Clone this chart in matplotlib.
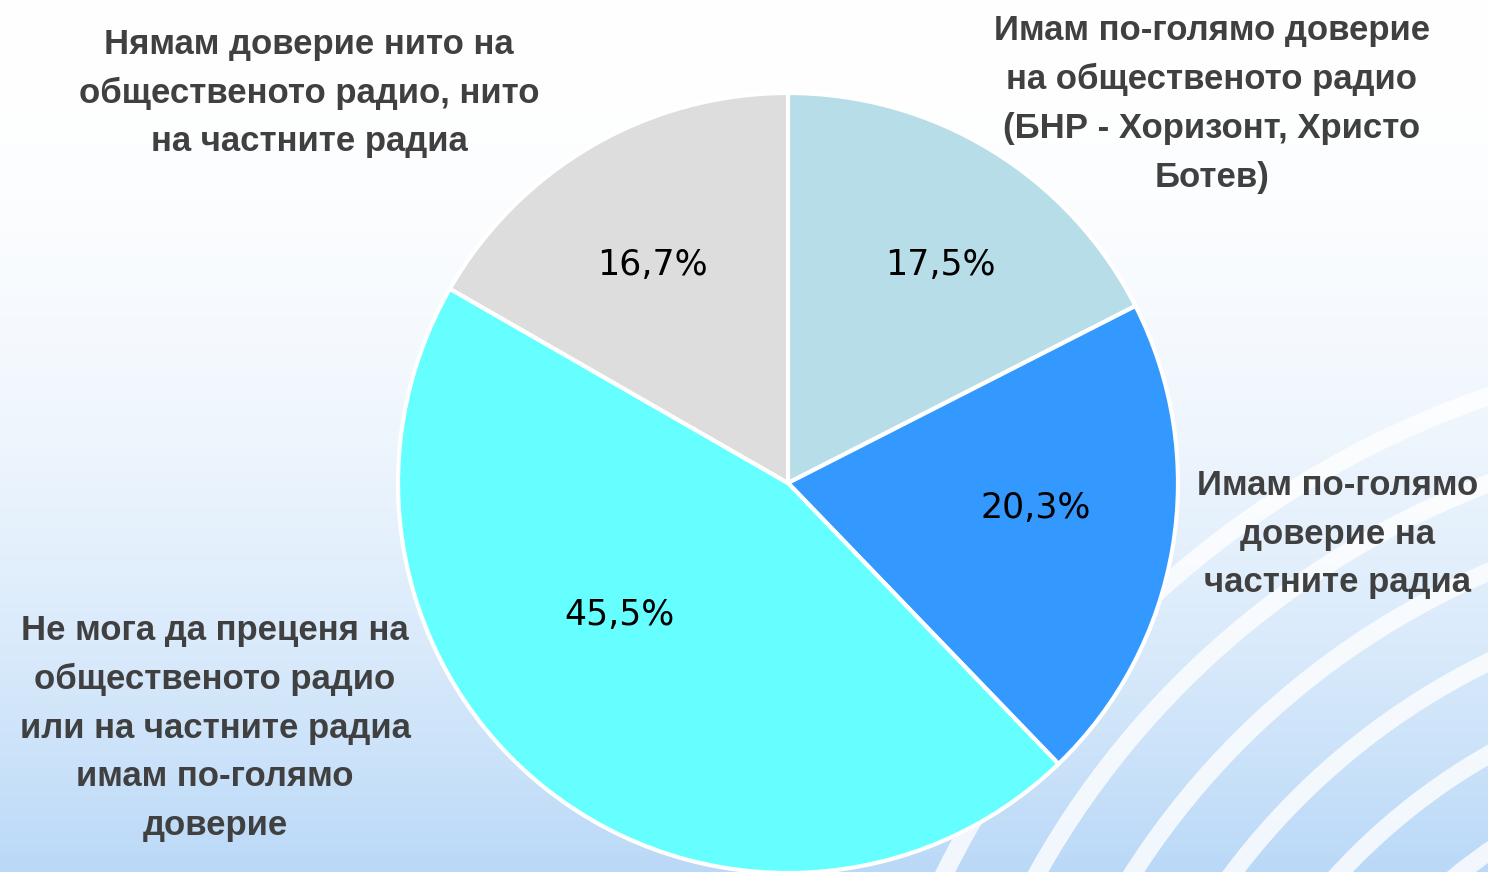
import numpy as np
import matplotlib.pyplot as plt
from matplotlib.patches import Circle
from matplotlib import font_manager

categories = [
    "Имам по-голямо доверие\nна общественото радио\n(БНР - Хоризонт, Христо\nБотев)",
    "Имам по-голямо\nдоверие на\nчастните радиа",
    "Не мога да преценя на\nобщественото радио\nили на частните радиа\nимам по-голямо\nдоверие",
    "Нямам доверие нито на\nобщественото радио, нито\nна частните радиа",
]
values = [17.5, 20.3, 45.5, 16.7]
pct_labels = ["17,5%", "20,3%", "45,5%", "16,7%"]
colors = ["#B7DDE8", "#3399FF", "#66FFFF", "#DDDDDD"]

W, H = 1488, 872
cx, cy, R = 788, 483, 390

names = {f.name for f in font_manager.fontManager.ttflist}
label_font = "Liberation Sans Narrow" if "Liberation Sans Narrow" in names else "Liberation Sans"

fig = plt.figure(figsize=(W / 100, H / 100), dpi=100)
ax = fig.add_axes([0, 0, 1, 1])

# background: white top fading to light blue at bottom
grad = np.linspace(0, 1, 256) ** 2.0
c_top = np.array([1.0, 1.0, 1.0])
c_bot = np.array([0.73, 0.85, 0.97])
img = c_top[None, :] * (1 - grad[:, None]) + c_bot[None, :] * grad[:, None]
ax.imshow(img[:, None, :].repeat(2, axis=1), extent=[0, W, H, 0], aspect="auto", zorder=0)
for r in np.arange(300, 1000, 82):
    ax.add_patch(Circle((1800, 1300), r, fill=False, ec="white", lw=13, alpha=0.8, zorder=1))

# pie in pixel coordinates
wedges, _ = ax.pie(values, colors=colors, startangle=90, counterclock=False,
                   center=(cx, cy), radius=R,
                   wedgeprops=dict(edgecolor="white", linewidth=3), frame=True)
for w in wedges:
    w.set_zorder(2)
    # flip angles since y-axis is inverted
    t1, t2 = w.theta1, w.theta2
    w.set_theta1(-t2)
    w.set_theta2(-t1)
ax.set_xlim(0, W)
ax.set_ylim(H, 0)
ax.axis("off")

pct_pos = [(940, 265), (1036, 508), (619, 615), (652, 265)]
for (x, y), t in zip(pct_pos, pct_labels):
    ax.text(x, y, t, ha="center", va="center", fontsize=25, color="black",
            family="DejaVu Sans", zorder=3)

label_pos = [(1212, 104), (1338, 534), (215, 728), (309, 93)]
for (x, y), t in zip(label_pos, categories):
    ax.text(x, y, t, ha="center", va="center", fontsize=25, fontweight="bold",
            color="#404040", family=label_font, linespacing=1.6, zorder=3)

fig.savefig("out.png", dpi=100)
